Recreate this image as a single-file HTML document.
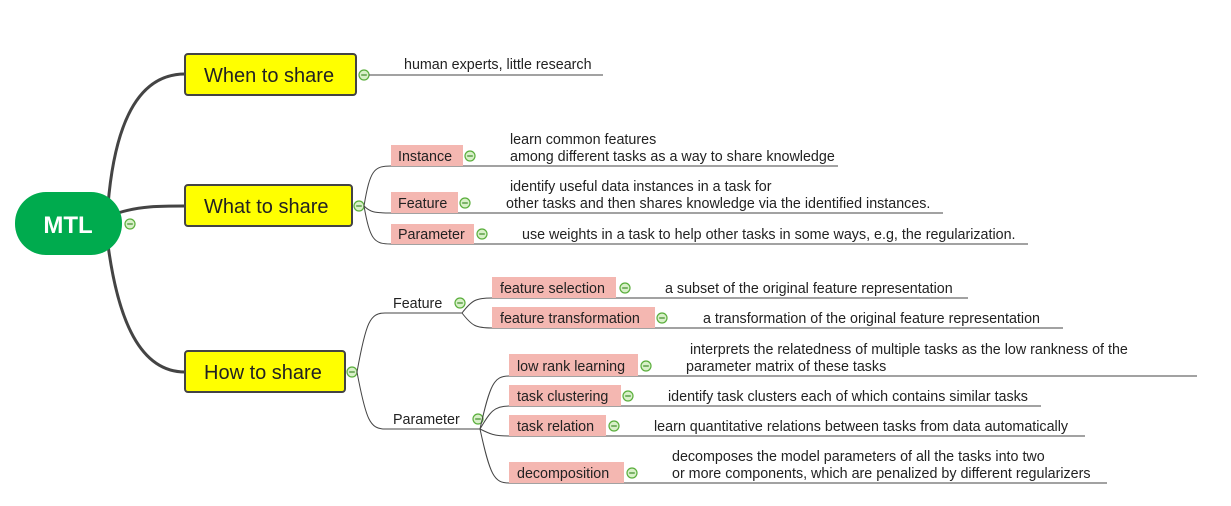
<!DOCTYPE html>
<html><head><meta charset="utf-8">
<style>
html,body{margin:0;padding:0;background:#fff;}
svg{display:block;font-family:"Liberation Sans",sans-serif;}
.t{font-size:14.3px;fill:#222;}
.y{font-size:20px;fill:#222;}
.ln{stroke:#444;stroke-width:1;fill:none;}
.th{stroke:#444;stroke-width:3;fill:none;}
.pk{fill:#f4b7b1;}
.yb{fill:#ffff00;stroke:#444;stroke-width:2;}
</style></head>
<body>
<svg width="1231" height="506" viewBox="0 0 1231 506">
<defs>
<g id="mn"><circle r="5" fill="#d8f0c8" stroke="#5aae3c" stroke-width="1.2"/><line x1="-2.8" y1="0" x2="2.8" y2="0" stroke="#3d8a28" stroke-width="1.2"/></g>
</defs>
<path class="th" d="M108,205 C115,120 140,74 185,74"/>
<path class="th" d="M118,213 C140,206 160,206 185,206"/>
<path class="th" d="M108,245 C118,320 140,372 185,372"/>
<rect x="15" y="192" width="107" height="63" rx="31" fill="#00ab4e"/>
<text x="68" y="233" text-anchor="middle" font-size="24" font-weight="bold" fill="#fff">MTL</text>
<use href="#mn" x="130" y="224"/>

<rect class="yb" x="185" y="54" width="171" height="41" rx="3"/>
<text class="y" x="204" y="82">When to share</text>
<use href="#mn" x="364" y="75"/>
<line class="ln" x1="369" y1="75" x2="603" y2="75"/>
<text class="t" x="404" y="69">human experts, little research</text>

<rect class="yb" x="185" y="185" width="167" height="41" rx="3"/>
<text class="y" x="204" y="213">What to share</text>
<use href="#mn" x="359" y="206"/>
<path class="ln" d="M364,206 C370,170 374,166 391,166 L838,166"/>
<path class="ln" d="M364,206 C370,212 374,213 391,213 L943,213"/>
<path class="ln" d="M364,206 C370,240 374,244 391,244 L1028,244"/>
<rect class="pk" x="391" y="145" width="72" height="21"/>
<text class="t" x="398" y="161">Instance</text>
<use href="#mn" x="470" y="156"/>
<text class="t" x="510" y="144">learn common features</text>
<text class="t" x="510" y="161">among different tasks as a way to share knowledge</text>
<rect class="pk" x="391" y="192" width="67" height="21"/>
<text class="t" x="398" y="208">Feature</text>
<use href="#mn" x="465" y="203"/>
<text class="t" x="510" y="191">identify useful data instances in a task for</text>
<text class="t" x="506" y="208">other tasks and then shares knowledge via the identified instances.</text>
<rect class="pk" x="391" y="224" width="83" height="20"/>
<text class="t" x="398" y="239">Parameter</text>
<use href="#mn" x="482" y="234"/>
<text class="t" x="522" y="239">use weights in a task to help other tasks in some ways, e.g, the regularization.</text>

<rect class="yb" x="185" y="351" width="160" height="41" rx="3"/>
<text class="y" x="204" y="379">How to share</text>
<use href="#mn" x="352" y="372"/>
<path class="ln" d="M357,372 C366,322 370,313 385,313 L462,313"/>
<path class="ln" d="M357,372 C366,420 370,429 385,429 L480,429"/>
<text class="t" x="393" y="308">Feature</text>
<use href="#mn" x="460" y="303"/>
<text class="t" x="393" y="424">Parameter</text>
<use href="#mn" x="478" y="419"/>

<path class="ln" d="M462,313 C472,300 476,298 492,298 L968,298"/>
<path class="ln" d="M462,313 C472,326 476,328 492,328 L1063,328"/>
<rect class="pk" x="492" y="277" width="124" height="21"/>
<text class="t" x="500" y="293">feature selection</text>
<use href="#mn" x="625" y="288"/>
<text class="t" x="665" y="293">a subset of the original feature representation</text>
<rect class="pk" x="492" y="307" width="163" height="21"/>
<text class="t" x="500" y="323">feature transformation</text>
<use href="#mn" x="662" y="318"/>
<text class="t" x="703" y="323">a transformation of the original feature representation</text>

<path class="ln" d="M480,429 C490,384 494,376 509,376 L1197,376"/>
<path class="ln" d="M480,429 C490,412 494,406 509,406 L1041,406"/>
<path class="ln" d="M480,429 C490,434 494,436 509,436 L1085,436"/>
<path class="ln" d="M480,429 C490,475 494,483 509,483 L1107,483"/>
<rect class="pk" x="509" y="354" width="129" height="22"/>
<text class="t" x="517" y="371">low rank learning</text>
<use href="#mn" x="646" y="366"/>
<text class="t" x="690" y="354">interprets the relatedness of multiple tasks as the low rankness of the</text>
<text class="t" x="686" y="371">parameter matrix of these tasks</text>
<rect class="pk" x="509" y="385" width="112" height="21"/>
<text class="t" x="517" y="401">task clustering</text>
<use href="#mn" x="628" y="396"/>
<text class="t" x="668" y="401">identify task clusters each of which contains similar tasks</text>
<rect class="pk" x="509" y="415" width="97" height="21"/>
<text class="t" x="517" y="431">task relation</text>
<use href="#mn" x="614" y="426"/>
<text class="t" x="654" y="431">learn quantitative relations between tasks from data automatically</text>
<rect class="pk" x="509" y="462" width="115" height="21"/>
<text class="t" x="517" y="478">decomposition</text>
<use href="#mn" x="632" y="473"/>
<text class="t" x="672" y="461">decomposes the model parameters of all the tasks into two</text>
<text class="t" x="672" y="478">or more components, which are penalized by different regularizers</text>
</svg>
</body></html>
